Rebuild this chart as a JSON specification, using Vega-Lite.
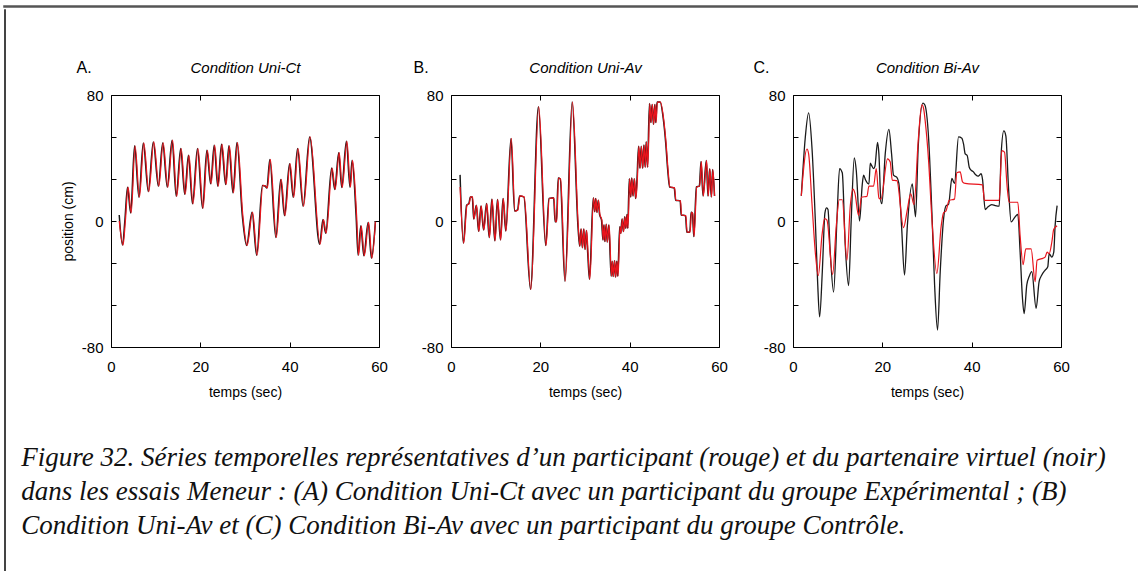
{
  "$schema": "https://vega.github.io/schema/vega-lite/v6.json",
  "padding": {"left": 3, "top": 5, "right": 0, "bottom": 0},
  "background": "white",
  "datasets": {
    "A_noir": [{"t":1.84,"v":3.8},{"t":2.58,"v":-15.3},{"t":3.1,"v":0},{"t":3.7,"v":21.5},{"t":4.4,"v":5.1},{"t":5.28,"v":47.7},{"t":6.25,"v":15.1},{"t":7.23,"v":49.6},{"t":8.35,"v":18.7},{"t":9.47,"v":50.2},{"t":10.6,"v":22.1},{"t":11.57,"v":49.6},{"t":12.6,"v":21.5},{"t":13.67,"v":51.3},{"t":14.6,"v":15.7},{"t":15.6,"v":46},{"t":16.5,"v":17},{"t":17.34,"v":41.7},{"t":18.24,"v":10.9},{"t":19.36,"v":46},{"t":20.5,"v":8.1},{"t":21.46,"v":44.9},{"t":22.3,"v":23.6},{"t":23.1,"v":48.1},{"t":23.9,"v":22.1},{"t":24.75,"v":48.7},{"t":25.66,"v":23.2},{"t":26.4,"v":47.7},{"t":27.3,"v":17.9},{"t":28.2,"v":49.8},{"t":29.4,"v":3.4},{"t":30.35,"v":-15.5},{"t":31.58,"v":5.5},{"t":32.6,"v":-21.7},{"t":33.9,"v":22.6},{"t":34.5,"v":22.2},{"t":34.9,"v":21},{"t":35.55,"v":39.1},{"t":36.9,"v":-10.4},{"t":38.0,"v":26.4},{"t":38.84,"v":3.4},{"t":39.97,"v":36.4},{"t":40.8,"v":15.1},{"t":41.76,"v":46},{"t":43.0,"v":9.4},{"t":44.46,"v":53.4},{"t":46.7,"v":-14.7},{"t":47.46,"v":0.9},{"t":48.06,"v":-7.7},{"t":49.4,"v":33.6},{"t":50.08,"v":20},{"t":50.98,"v":43.4},{"t":51.65,"v":21.3},{"t":52.7,"v":50.6},{"t":53.5,"v":21.5},{"t":53.97,"v":38.5},{"t":54.87,"v":3.4},{"t":55.32,"v":-21.7},{"t":55.92,"v":-3},{"t":56.6,"v":-22.1},{"t":57.57,"v":-0.9},{"t":58.3,"v":-23.6},{"t":59.2,"v":-0.4}],
    "A_rouge": [{"t":1.84,"v":0},{"t":2.7,"v":-15.3},{"t":3.22,"v":0},{"t":3.82,"v":21.5},{"t":4.52,"v":5.1},{"t":5.4,"v":47.7},{"t":6.37,"v":15.1},{"t":7.35,"v":49.6},{"t":8.47,"v":18.7},{"t":9.59,"v":50.2},{"t":10.72,"v":22.1},{"t":11.69,"v":49.6},{"t":12.72,"v":21.5},{"t":13.79,"v":51.3},{"t":14.72,"v":15.7},{"t":15.72,"v":46},{"t":16.62,"v":17},{"t":17.46,"v":41.7},{"t":18.36,"v":10.9},{"t":19.48,"v":46},{"t":20.62,"v":8.1},{"t":21.58,"v":44.9},{"t":22.42,"v":23.6},{"t":23.22,"v":48.1},{"t":24.02,"v":22.1},{"t":24.87,"v":48.7},{"t":25.78,"v":23.2},{"t":26.52,"v":47.7},{"t":27.42,"v":17.9},{"t":28.32,"v":49.8},{"t":29.52,"v":3.4},{"t":30.47,"v":-15.5},{"t":31.7,"v":5.5},{"t":32.72,"v":-21.7},{"t":34.02,"v":22.6},{"t":34.62,"v":22.2},{"t":35.02,"v":21},{"t":35.67,"v":39.1},{"t":37.02,"v":-10.4},{"t":38.12,"v":26.4},{"t":38.96,"v":3.4},{"t":40.09,"v":36.4},{"t":40.92,"v":15.1},{"t":41.88,"v":46},{"t":43.12,"v":9.4},{"t":44.58,"v":53.4},{"t":46.82,"v":-14.7},{"t":47.58,"v":0.9},{"t":48.18,"v":-7.7},{"t":49.52,"v":33.6},{"t":50.2,"v":20},{"t":51.1,"v":43.4},{"t":51.77,"v":21.3},{"t":52.82,"v":50.6},{"t":53.62,"v":21.5},{"t":54.09,"v":38.5},{"t":54.99,"v":3.4},{"t":55.44,"v":-21.7},{"t":56.04,"v":-3},{"t":56.72,"v":-22.1},{"t":57.69,"v":-0.9},{"t":58.42,"v":-23.6},{"t":59.2,"v":-0.4}],
    "B_noir": [{"t":2.03,"v":29.3},{"t":2.77,"v":-14},{"t":3.5,"v":10},{"t":4.0,"v":11.1},{"t":4.33,"v":15.3},{"t":4.77,"v":15.3},{"t":5.07,"v":1.3},{"t":5.66,"v":10},{"t":6.18,"v":-6.7},{"t":6.7,"v":9.6},{"t":7.29,"v":-5.7},{"t":7.95,"v":11.1},{"t":8.55,"v":-10.5},{"t":9.14,"v":13.8},{"t":9.8,"v":-12.6},{"t":10.4,"v":13.6},{"t":11.06,"v":-12},{"t":11.65,"v":14.3},{"t":12.25,"v":-6.3},{"t":13.43,"v":52.4},{"t":14.24,"v":6.3},{"t":14.9,"v":7},{"t":15.35,"v":15.9},{"t":16.3,"v":15.3},{"t":17.8,"v":-43.4},{"t":19.57,"v":72.5},{"t":21.2,"v":-15.5},{"t":21.94,"v":14.3},{"t":22.98,"v":14.7},{"t":23.3,"v":-0.4},{"t":23.6,"v":-0.4},{"t":24.0,"v":27.3},{"t":24.45,"v":26.8},{"t":25.5,"v":-38.2},{"t":27.12,"v":75.5},{"t":28.45,"v":-4.6},{"t":28.8,"v":-16},{"t":29.1,"v":-5},{"t":29.4,"v":-17},{"t":29.7,"v":-5},{"t":30.0,"v":-18},{"t":30.3,"v":-6},{"t":30.6,"v":-20},{"t":31.0,"v":-37},{"t":31.85,"v":14.7},{"t":32.15,"v":5.9},{"t":32.37,"v":14.3},{"t":32.67,"v":5.5},{"t":32.96,"v":13.2},{"t":33.26,"v":4.2},{"t":33.7,"v":0.6},{"t":34.0,"v":-12},{"t":34.22,"v":-2.5},{"t":34.44,"v":-13},{"t":34.74,"v":-2.1},{"t":34.96,"v":-13.4},{"t":35.33,"v":-2.5},{"t":35.85,"v":-35},{"t":36.07,"v":-25.6},{"t":36.29,"v":-35.2},{"t":36.59,"v":-25.2},{"t":36.81,"v":-35.6},{"t":37.1,"v":-25.6},{"t":37.33,"v":-35},{"t":37.77,"v":-3.6},{"t":37.99,"v":-7.8},{"t":38.29,"v":1.3},{"t":38.58,"v":-6.7},{"t":38.88,"v":2.7},{"t":39.1,"v":-4.6},{"t":39.4,"v":4.2},{"t":39.55,"v":-4.6},{"t":39.92,"v":26.8},{"t":40.21,"v":15.3},{"t":40.44,"v":27.3},{"t":40.73,"v":15.9},{"t":41.03,"v":26.8},{"t":41.32,"v":14.3},{"t":41.62,"v":25.2},{"t":41.99,"v":47.4},{"t":42.28,"v":33.5},{"t":42.58,"v":47.4},{"t":42.88,"v":33.5},{"t":43.17,"v":48.2},{"t":43.47,"v":34.2},{"t":43.69,"v":50.3},{"t":43.99,"v":34.2},{"t":44.43,"v":74.6},{"t":44.73,"v":62.5},{"t":45.02,"v":74},{"t":45.32,"v":61.4},{"t":45.61,"v":74},{"t":45.84,"v":62.5},{"t":46.13,"v":75.5},{"t":46.8,"v":75.5},{"t":47.54,"v":64.6},{"t":48.06,"v":49.9},{"t":48.5,"v":33.1},{"t":48.94,"v":21.6},{"t":49.98,"v":21},{"t":50.28,"v":13.2},{"t":51.31,"v":12.8},{"t":51.53,"v":3.8},{"t":52.5,"v":3.4},{"t":52.79,"v":-7.1},{"t":53.46,"v":-7.1},{"t":53.75,"v":5.5},{"t":54.05,"v":4.8},{"t":54.35,"v":-9.9},{"t":54.94,"v":21.6},{"t":55.6,"v":22.2},{"t":55.97,"v":37.7},{"t":56.42,"v":15.9},{"t":57.16,"v":38.4},{"t":57.53,"v":15.9},{"t":57.9,"v":33.1},{"t":58.27,"v":15.3},{"t":58.56,"v":32.7},{"t":59.0,"v":15.9}],
    "B_rouge": [{"t":2.03,"v":21.6},{"t":2.85,"v":-14},{"t":3.58,"v":10},{"t":4.08,"v":11.1},{"t":4.41,"v":15.3},{"t":4.85,"v":15.3},{"t":5.15,"v":1.3},{"t":5.74,"v":10},{"t":6.26,"v":-6.7},{"t":6.78,"v":9.6},{"t":7.37,"v":-5.7},{"t":8.03,"v":11.1},{"t":8.63,"v":-10.5},{"t":9.22,"v":13.8},{"t":9.88,"v":-12.6},{"t":10.48,"v":13.6},{"t":11.14,"v":-12},{"t":11.73,"v":14.3},{"t":12.33,"v":-6.3},{"t":13.51,"v":52.4},{"t":14.32,"v":6.3},{"t":14.98,"v":7},{"t":15.43,"v":15.9},{"t":16.38,"v":15.3},{"t":17.88,"v":-43.4},{"t":19.65,"v":72.5},{"t":21.28,"v":-15.5},{"t":22.02,"v":14.3},{"t":23.06,"v":14.7},{"t":23.38,"v":-0.4},{"t":23.68,"v":-0.4},{"t":24.08,"v":27.3},{"t":24.53,"v":26.8},{"t":25.58,"v":-38.2},{"t":27.2,"v":75.5},{"t":28.53,"v":-4.6},{"t":28.88,"v":-16},{"t":29.18,"v":-5},{"t":29.48,"v":-17},{"t":29.78,"v":-5},{"t":30.08,"v":-18},{"t":30.38,"v":-6},{"t":30.68,"v":-20},{"t":31.08,"v":-37},{"t":31.93,"v":14.7},{"t":32.23,"v":5.9},{"t":32.45,"v":14.3},{"t":32.75,"v":5.5},{"t":33.04,"v":13.2},{"t":33.34,"v":4.2},{"t":33.78,"v":0.6},{"t":34.08,"v":-12},{"t":34.3,"v":-2.5},{"t":34.52,"v":-13},{"t":34.82,"v":-2.1},{"t":35.04,"v":-13.4},{"t":35.41,"v":-2.5},{"t":35.93,"v":-35},{"t":36.15,"v":-25.6},{"t":36.37,"v":-35.2},{"t":36.67,"v":-25.2},{"t":36.89,"v":-35.6},{"t":37.18,"v":-25.6},{"t":37.41,"v":-35},{"t":37.85,"v":-3.6},{"t":38.07,"v":-7.8},{"t":38.37,"v":1.3},{"t":38.66,"v":-6.7},{"t":38.96,"v":2.7},{"t":39.18,"v":-4.6},{"t":39.48,"v":4.2},{"t":39.63,"v":-4.6},{"t":40.0,"v":26.8},{"t":40.29,"v":15.3},{"t":40.52,"v":27.3},{"t":40.81,"v":15.9},{"t":41.11,"v":26.8},{"t":41.4,"v":14.3},{"t":41.7,"v":25.2},{"t":42.07,"v":47.4},{"t":42.36,"v":33.5},{"t":42.66,"v":47.4},{"t":42.96,"v":33.5},{"t":43.25,"v":48.2},{"t":43.55,"v":34.2},{"t":43.77,"v":50.3},{"t":44.07,"v":34.2},{"t":44.51,"v":74.6},{"t":44.81,"v":62.5},{"t":45.1,"v":74},{"t":45.4,"v":61.4},{"t":45.69,"v":74},{"t":45.92,"v":62.5},{"t":46.21,"v":75.5},{"t":46.88,"v":75.5},{"t":47.62,"v":64.6},{"t":48.14,"v":49.9},{"t":48.58,"v":33.1},{"t":49.02,"v":21.6},{"t":50.06,"v":21},{"t":50.36,"v":13.2},{"t":51.39,"v":12.8},{"t":51.61,"v":3.8},{"t":52.58,"v":3.4},{"t":52.87,"v":-7.1},{"t":53.54,"v":-7.1},{"t":53.83,"v":5.5},{"t":54.13,"v":4.8},{"t":54.43,"v":-9.9},{"t":55.02,"v":21.6},{"t":55.68,"v":22.2},{"t":56.05,"v":37.7},{"t":56.5,"v":15.9},{"t":57.24,"v":38.4},{"t":57.61,"v":15.9},{"t":57.98,"v":33.1},{"t":58.35,"v":15.3},{"t":58.64,"v":32.7},{"t":59.0,"v":15.9}],
    "C_noir": [{"t":1.86,"v":16},{"t":2.75,"v":53},{"t":3.5,"v":68.6},{"t":4.24,"v":46.8},{"t":4.99,"v":1},{"t":5.51,"v":-38.5},{"t":5.96,"v":-60.9},{"t":6.56,"v":-32.2},{"t":7.15,"v":5.2},{"t":7.53,"v":8.3},{"t":7.83,"v":7.3},{"t":8.34,"v":-19.8},{"t":9.09,"v":-45.1},{"t":9.84,"v":1},{"t":10.43,"v":33.3},{"t":11.03,"v":30.6},{"t":11.7,"v":-15.6},{"t":12.45,"v":-41},{"t":13.04,"v":1},{"t":13.72,"v":40.1},{"t":14.16,"v":32.2},{"t":14.9,"v":0},{"t":15.5,"v":22.9},{"t":15.8,"v":29.1},{"t":16.25,"v":26},{"t":16.7,"v":23.9},{"t":17.0,"v":23.5},{"t":17.3,"v":36.8},{"t":17.59,"v":35.3},{"t":18.04,"v":33.3},{"t":18.34,"v":34.7},{"t":18.93,"v":49.9},{"t":19.23,"v":42.6},{"t":19.68,"v":12.5},{"t":19.9,"v":11},{"t":20.65,"v":42.6},{"t":21.47,"v":58.2},{"t":22.07,"v":42.6},{"t":22.5,"v":29.1},{"t":23.26,"v":27.7},{"t":23.7,"v":23.9},{"t":24.3,"v":-3.1},{"t":24.97,"v":-34.3},{"t":25.6,"v":-3.1},{"t":26.7,"v":23.5},{"t":27.44,"v":2.7},{"t":28.03,"v":46.8},{"t":29.08,"v":74.8},{"t":29.5,"v":73.8},{"t":30.35,"v":53},{"t":31.1,"v":5.2},{"t":31.7,"v":-40.5},{"t":32.36,"v":-69.2},{"t":32.96,"v":-32.2},{"t":33.7,"v":1},{"t":34.3,"v":9.8},{"t":34.82,"v":10.4},{"t":35.57,"v":27},{"t":36.16,"v":23.9},{"t":37.06,"v":53.4},{"t":37.8,"v":52.6},{"t":38.18,"v":48.9},{"t":38.55,"v":42.6},{"t":39.0,"v":41.6},{"t":39.44,"v":34.3},{"t":39.89,"v":32.2},{"t":40.4,"v":31.2},{"t":40.79,"v":29.7},{"t":41.38,"v":28.5},{"t":41.75,"v":29.1},{"t":42.13,"v":30.1},{"t":42.43,"v":26.4},{"t":43.02,"v":7.3},{"t":43.62,"v":8.9},{"t":44.51,"v":10.4},{"t":45.26,"v":9.8},{"t":46.16,"v":9.4},{"t":46.6,"v":42.6},{"t":47.2,"v":57.2},{"t":47.65,"v":54.1},{"t":48.24,"v":21.8},{"t":48.84,"v":-0.6},{"t":49.6,"v":2.1},{"t":50.33,"v":4.2},{"t":50.85,"v":-19.8},{"t":51.37,"v":-48.9},{"t":51.75,"v":-58.8},{"t":52.34,"v":-40.5},{"t":52.87,"v":-35.3},{"t":53.46,"v":-32.2},{"t":54.43,"v":-55.5},{"t":55.1,"v":-38.5},{"t":55.7,"v":-34.3},{"t":56.45,"v":-31.2},{"t":57.04,"v":-29.1},{"t":57.34,"v":-20.8},{"t":57.94,"v":-22.9},{"t":58.38,"v":-19.8},{"t":58.68,"v":-3.1},{"t":59.13,"v":9.8}],
    "C_rouge": [{"t":1.86,"v":16},{"t":3.12,"v":45.7},{"t":3.5,"v":42.6},{"t":4.24,"v":11.4},{"t":4.99,"v":-19.8},{"t":5.66,"v":-34.7},{"t":6.48,"v":-9.4},{"t":7.08,"v":1.5},{"t":7.6,"v":0.6},{"t":8.87,"v":-33.9},{"t":9.69,"v":-3.1},{"t":10.36,"v":13.5},{"t":11.03,"v":13.5},{"t":12.07,"v":-24.9},{"t":12.82,"v":9.4},{"t":13.42,"v":20.2},{"t":13.86,"v":17.7},{"t":14.68,"v":3.5},{"t":15.35,"v":15.2},{"t":16.55,"v":15.6},{"t":17.0,"v":22.2},{"t":18.04,"v":22.2},{"t":18.64,"v":33.3},{"t":19.23,"v":14.6},{"t":19.68,"v":13.9},{"t":21.17,"v":39.5},{"t":21.77,"v":37.4},{"t":22.22,"v":26},{"t":23.26,"v":25.6},{"t":24.75,"v":-4.2},{"t":25.6,"v":7.3},{"t":26.35,"v":17.3},{"t":27.1,"v":10.4},{"t":28.03,"v":50.9},{"t":28.85,"v":73.8},{"t":29.22,"v":71.7},{"t":29.6,"v":63.4},{"t":30.35,"v":38.5},{"t":31.1,"v":1},{"t":32.21,"v":-33.3},{"t":33.18,"v":-3.1},{"t":33.7,"v":5.2},{"t":34.22,"v":6.2},{"t":34.97,"v":13.1},{"t":36.16,"v":13.9},{"t":36.68,"v":30.6},{"t":37.43,"v":31.2},{"t":37.95,"v":24.9},{"t":38.55,"v":23.9},{"t":42.43,"v":22.9},{"t":42.87,"v":13.1},{"t":46.16,"v":13.1},{"t":46.75,"v":44.7},{"t":47.35,"v":43.7},{"t":47.94,"v":21.8},{"t":48.39,"v":11.9},{"t":50.33,"v":11.9},{"t":50.85,"v":-9.4},{"t":51.52,"v":-27.7},{"t":52.12,"v":-17.7},{"t":53.31,"v":-17.7},{"t":54.21,"v":-38.5},{"t":54.65,"v":-24.9},{"t":55.7,"v":-23.9},{"t":56.45,"v":-22.9},{"t":56.89,"v":-19.8},{"t":57.34,"v":-20.8},{"t":57.94,"v":-13.5},{"t":58.38,"v":-5.2},{"t":59.13,"v":-3.1}]
  },
  "vconcat": [
    {
      "width": 1135, "height": 1,
      "data": {"values": []},
      "mark": {"type": "text", "text": ""},
      "view": {"stroke": "#555555", "strokeWidth": 1.5}
    },
    {
      "hconcat": [
        {
          "width": 1, "height": 565,
          "data": {"values": []},
          "mark": {"type": "text", "text": ""},
          "view": {"stroke": "#444444", "strokeWidth": 1}
        },
        {
          "title": {
            "text": [
              "Figure 32. Séries temporelles représentatives d’un participant (rouge) et du partenaire virtuel (noir)",
              "dans les essais Meneur : (A) Condition Uni-Ct avec un participant du groupe Expérimental ; (B)",
              "Condition Uni-Av et (C) Condition Bi-Av avec un participant du groupe Contrôle."
            ],
            "orient": "bottom", "anchor": "start", "frame": "bounds", "dx": -40, "offset": 46,
            "font": "Liberation Serif", "fontStyle": "italic", "fontWeight": "normal",
            "fontSize": 27, "lineHeight": 34, "color": "#111111"
          },
          "vconcat": [
            {
              "width": 1, "height": 50,
              "data": {"values": []},
              "mark": {"type": "text", "text": ""}
            },
            {
              "hconcat": [
                {
                  "width": 268, "height": 252,
                  "layer": [
                    {
                      "data": {"name": "A_noir"},
                      "mark": {"type": "line", "color": "#1a1a1a", "strokeWidth": 1.5, "interpolate": "monotone"},
                      "encoding": {
                        "x": {"field": "t", "type": "quantitative", "scale": {"domain": [0, 60], "nice": false, "zero": false},
                              "axis": {"orient": "bottom", "values": [0, 20, 40, 60], "title": "temps (sec)", "labelPadding": 17, "titlePadding": 11}},
                        "y": {"field": "v", "type": "quantitative", "scale": {"domain": [-80, 80], "nice": false},
                              "axis": {"orient": "left", "values": [-80, -53.333, -26.667, 0, 26.667, 53.333, 80],
                                       "labelExpr": "datum.value == 80 ? '80' : datum.value == 0 ? '0' : datum.value == -80 ? '-80' : ''",
                                       "title": "position (cm)", "labelPadding": 13, "titlePadding": 6}}
                      }
                    },
                    {
                      "data": {"name": "A_rouge"},
                      "mark": {"type": "line", "color": "#e8141c", "strokeWidth": 1.2, "interpolate": "monotone"},
                      "encoding": {
                        "x": {"field": "t", "type": "quantitative", "scale": {"domain": [0, 60], "nice": false, "zero": false},
                              "axis": {"orient": "top", "values": [0, 20, 40, 60], "labels": false, "title": "Condition Uni-Ct",
                                       "titleFontStyle": "italic", "titleY": -28, "titleBaseline": "middle", "titleFontSize": 15}},
                        "y": {"field": "v", "type": "quantitative", "scale": {"domain": [-80, 80], "nice": false},
                              "axis": {"orient": "right", "values": [-80, -53.333, -26.667, 0, 26.667, 53.333, 80], "labels": false,
                                       "title": "A.", "titleAngle": 0, "titleX": -303, "titleY": -28, "titleAlign": "left", "titleBaseline": "middle", "titleFontSize": 16}}
                      }
                    }
                  ],
                  "resolve": {"axis": {"x": "independent", "y": "independent"}}
                },
                {
                  "width": 268, "height": 252,
                  "layer": [
                    {
                      "data": {"name": "B_noir"},
                      "mark": {"type": "line", "color": "#1a1a1a", "strokeWidth": 1.5, "interpolate": "monotone"},
                      "encoding": {
                        "x": {"field": "t", "type": "quantitative", "scale": {"domain": [0, 60], "nice": false, "zero": false},
                              "axis": {"orient": "bottom", "values": [0, 20, 40, 60], "title": "temps (sec)", "labelPadding": 17, "titlePadding": 11}},
                        "y": {"field": "v", "type": "quantitative", "scale": {"domain": [-80, 80], "nice": false},
                              "axis": {"orient": "left", "values": [-80, -53.333, -26.667, 0, 26.667, 53.333, 80],
                                       "labelExpr": "datum.value == 80 ? '80' : datum.value == 0 ? '0' : datum.value == -80 ? '-80' : ''",
                                       "title": null, "labelPadding": 13}}
                      }
                    },
                    {
                      "data": {"name": "B_rouge"},
                      "mark": {"type": "line", "color": "#e8141c", "strokeWidth": 1.2, "interpolate": "monotone"},
                      "encoding": {
                        "x": {"field": "t", "type": "quantitative", "scale": {"domain": [0, 60], "nice": false, "zero": false},
                              "axis": {"orient": "top", "values": [0, 20, 40, 60], "labels": false, "title": "Condition Uni-Av",
                                       "titleFontStyle": "italic", "titleY": -28, "titleBaseline": "middle", "titleFontSize": 15}},
                        "y": {"field": "v", "type": "quantitative", "scale": {"domain": [-80, 80], "nice": false},
                              "axis": {"orient": "right", "values": [-80, -53.333, -26.667, 0, 26.667, 53.333, 80], "labels": false,
                                       "title": "B.", "titleAngle": 0, "titleX": -306, "titleY": -28, "titleAlign": "left", "titleBaseline": "middle", "titleFontSize": 16}}
                      }
                    }
                  ],
                  "resolve": {"axis": {"x": "independent", "y": "independent"}}
                },
                {
                  "width": 268, "height": 252,
                  "layer": [
                    {
                      "data": {"name": "C_noir"},
                      "mark": {"type": "line", "color": "#1a1a1a", "strokeWidth": 1.3, "interpolate": "monotone"},
                      "encoding": {
                        "x": {"field": "t", "type": "quantitative", "scale": {"domain": [0, 60], "nice": false, "zero": false},
                              "axis": {"orient": "bottom", "values": [0, 20, 40, 60], "title": "temps (sec)", "labelPadding": 17, "titlePadding": 11}},
                        "y": {"field": "v", "type": "quantitative", "scale": {"domain": [-80, 80], "nice": false},
                              "axis": {"orient": "left", "values": [-80, -53.333, -26.667, 0, 26.667, 53.333, 80],
                                       "labelExpr": "datum.value == 80 ? '80' : datum.value == 0 ? '0' : datum.value == -80 ? '-80' : ''",
                                       "title": null, "labelPadding": 13}}
                      }
                    },
                    {
                      "data": {"name": "C_rouge"},
                      "mark": {"type": "line", "color": "#e8141c", "strokeWidth": 1.2, "interpolate": "monotone"},
                      "encoding": {
                        "x": {"field": "t", "type": "quantitative", "scale": {"domain": [0, 60], "nice": false, "zero": false},
                              "axis": {"orient": "top", "values": [0, 20, 40, 60], "labels": false, "title": "Condition Bi-Av",
                                       "titleFontStyle": "italic", "titleY": -28, "titleBaseline": "middle", "titleFontSize": 15}},
                        "y": {"field": "v", "type": "quantitative", "scale": {"domain": [-80, 80], "nice": false},
                              "axis": {"orient": "right", "values": [-80, -53.333, -26.667, 0, 26.667, 53.333, 80], "labels": false,
                                       "title": "C.", "titleAngle": 0, "titleX": -308, "titleY": -28, "titleAlign": "left", "titleBaseline": "middle", "titleFontSize": 16}}
                      }
                    }
                  ],
                  "resolve": {"axis": {"x": "independent", "y": "independent"}}
                }
              ],
              "spacing": 25
            }
          ],
          "spacing": 0
        }
      ],
      "spacing": 15
    }
  ],
  "spacing": 0,
  "config": {
    "view": {"stroke": null},
    "font": "Liberation Sans",
    "axis": {
      "grid": false, "domainColor": "#000000", "domainWidth": 1, "tickColor": "#000000", "tickWidth": 1, "tickSize": -5,
      "labelFont": "Liberation Sans", "labelFontSize": 15, "labelColor": "#000000", "labelFlush": false, "labelOverlap": false,
      "titleFont": "Liberation Sans", "titleFontSize": 14, "titleFontWeight": "normal", "titleColor": "#000000"
    }
  }
}
